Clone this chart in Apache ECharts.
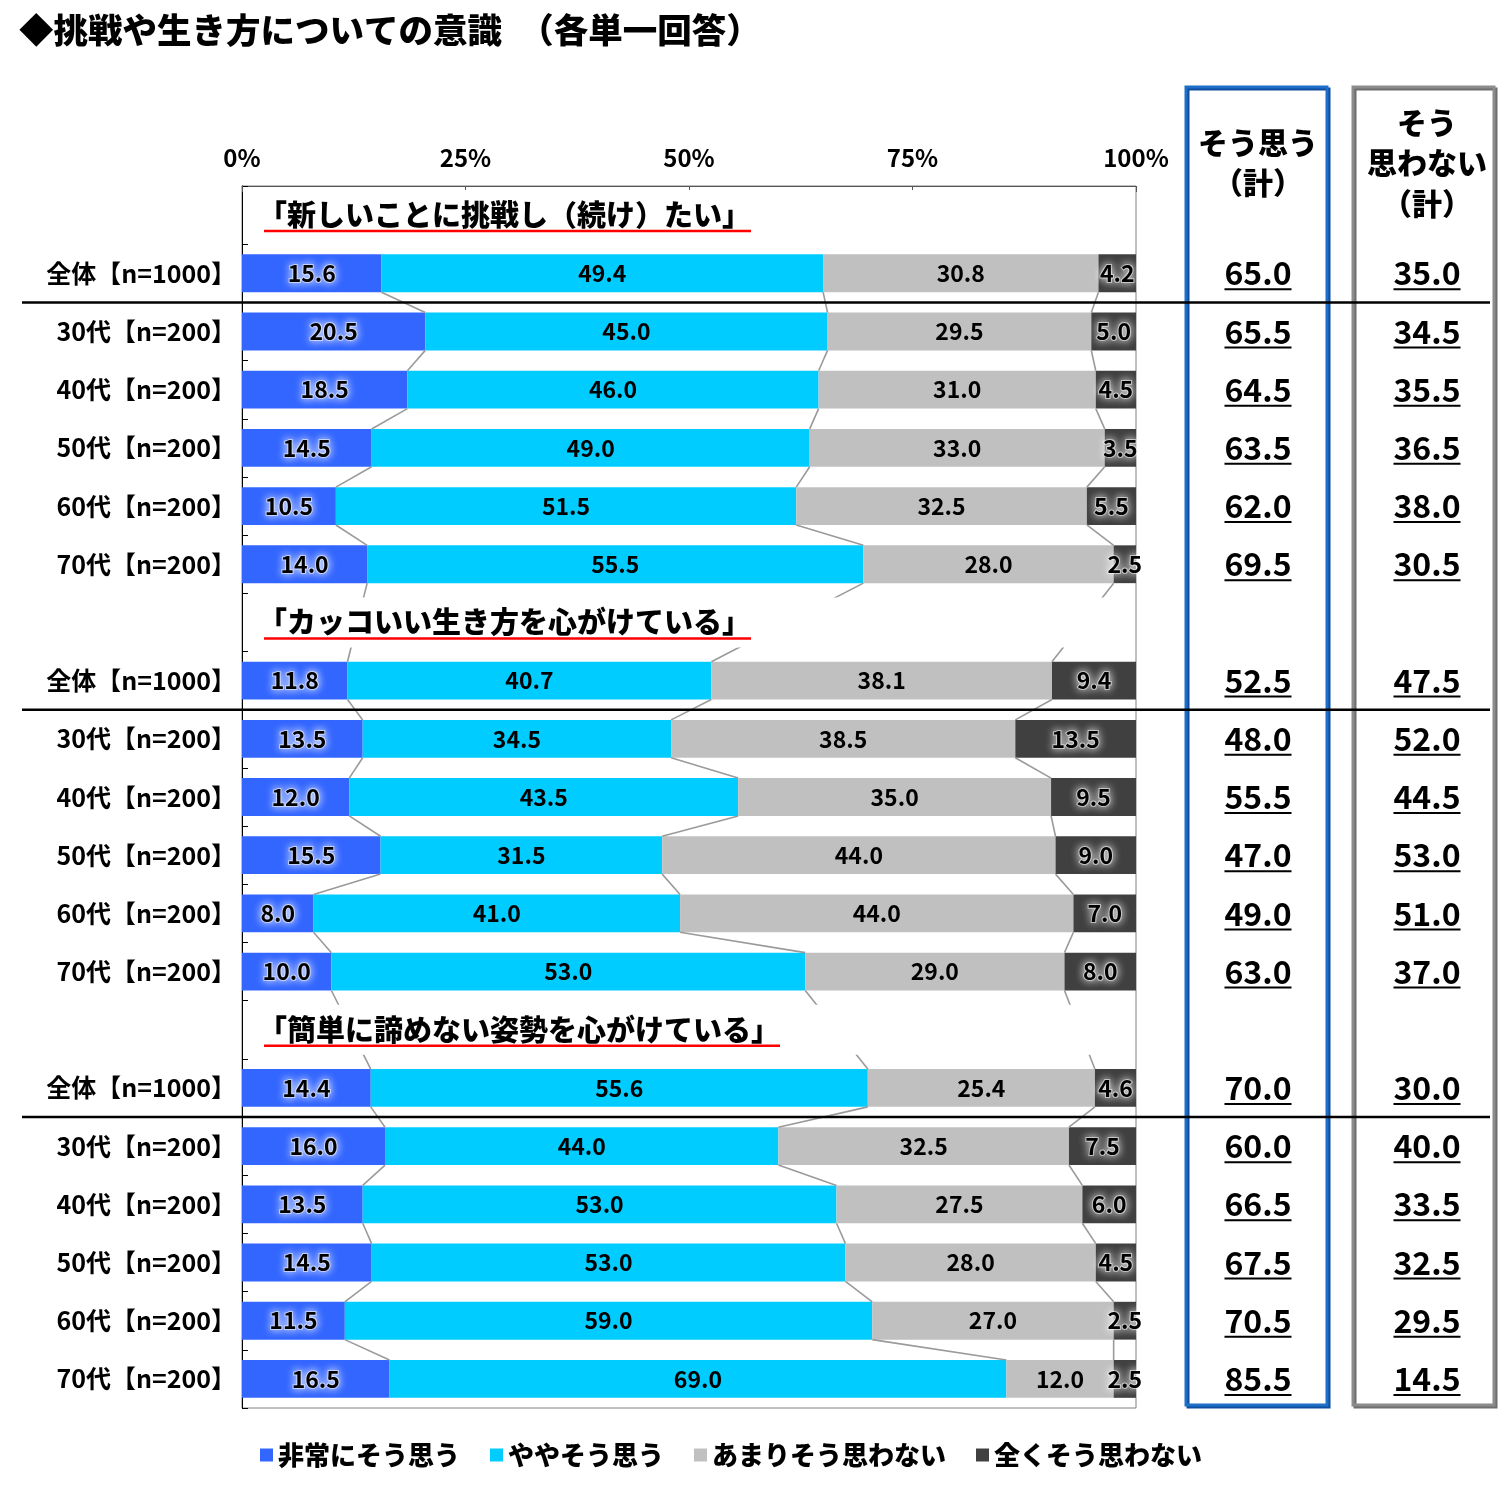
<!DOCTYPE html>
<html><head><meta charset="utf-8">
<script src="https://cdn.jsdelivr.net/npm/echarts@6/dist/echarts.min.js"></script>
<style>html,body{margin:0;padding:0;background:#fff}#c{width:1500px;height:1492px}</style>
</head><body><div id="c"></div>
<script>
const FONT = '"Noto Sans CJK JP", "Noto Sans", sans-serif';
const chartTitle = '◆挑戦や生き方についての意識　（各単一回答）';
const sectionTitles = ['「新しいことに挑戦し（続け）たい」', '「カッコいい生き方を心がけている」', '「簡単に諦めない姿勢を心がけている」'];
const rowLabels = ['全体【n=1000】', '30代【n=200】', '40代【n=200】', '50代【n=200】', '60代【n=200】', '70代【n=200】'];
const seriesNames = ['非常にそう思う', 'ややそう思う', 'あまりそう思わない', '全くそう思わない'];
const seriesColors = ['#3366FF', '#00CCFF', '#C0C0C0', '#404040'];
const strongAgree    = [15.6, 20.5, 18.5, 14.5, 10.5, 14.0, 11.8, 13.5, 12.0, 15.5, 8.0, 10.0, 14.4, 16.0, 13.5, 14.5, 11.5, 16.5];
const someAgree      = [49.4, 45.0, 46.0, 49.0, 51.5, 55.5, 40.7, 34.5, 43.5, 31.5, 41.0, 53.0, 55.6, 44.0, 53.0, 53.0, 59.0, 69.0];
const someDisagree   = [30.8, 29.5, 31.0, 33.0, 32.5, 28.0, 38.1, 38.5, 35.0, 44.0, 44.0, 29.0, 25.4, 32.5, 27.5, 28.0, 27.0, 12.0];
const strongDisagree = [4.2, 5.0, 4.5, 3.5, 5.5, 2.5, 9.4, 13.5, 9.5, 9.0, 7.0, 8.0, 4.6, 7.5, 6.0, 4.5, 2.5, 2.5];
const agreeTotal     = [65.0, 65.5, 64.5, 63.5, 62.0, 69.5, 52.5, 48.0, 55.5, 47.0, 49.0, 63.0, 70.0, 60.0, 66.5, 67.5, 70.5, 85.5];
const disagreeTotal  = [35.0, 34.5, 35.5, 36.5, 38.0, 30.5, 47.5, 52.0, 44.5, 53.0, 51.0, 37.0, 30.0, 40.0, 33.5, 32.5, 29.5, 14.5];
const axisMin = 0, axisMax = 100, axisInterval = 25;

// build category rows (header row + 6 rows per section)
const categories = [];
const headerRows = [];
const barRows = [];
sectionTitles.forEach(function (t, s) {
  headerRows.push(categories.length); categories.push('');
  rowLabels.forEach(function (l) { barRows.push(categories.length); categories.push(l); });
});
const valueSets = [strongAgree, someAgree, someDisagree, strongDisagree];
function fullData(arr) {
  const d = categories.map(function () { return '-'; });
  barRows.forEach(function (r, i) { d[r] = arr[i]; });
  return d;
}
// connectors between consecutive bar rows
const connectorData = [];
for (let j = 0; j < barRows.length - 1; j++) {
  const ca1 = strongAgree[j], ca2 = ca1 + someAgree[j], ca3 = ca2 + someDisagree[j];
  const cb1 = strongAgree[j + 1], cb2 = cb1 + someAgree[j + 1], cb3 = cb2 + someDisagree[j + 1];
  connectorData.push([barRows[j], barRows[j + 1], ca1, ca2, ca3, cb1, cb2, cb3]);
}

const mctx = document.createElement('canvas').getContext('2d');
function textW(t, size, weight) { mctx.font = weight + ' ' + size + 'px ' + FONT; return mctx.measureText(t).width; }

const BAR_RATIO = 0.65;
const chart = echarts.init(document.getElementById('c'));

const barSeries = seriesNames.map(function (name, i) {
  const glow = (i === 0 || i === 3);
  return {
    name: name, type: 'bar', stack: 'total', barWidth: '65%', z: 2,
    itemStyle: { color: seriesColors[i] },
    data: fullData(valueSets[i]),
    label: {
      show: true, position: 'inside',
      formatter: function (p) { return Number(p.value).toFixed(1); },
      color: '#000', fontSize: 23, fontWeight: 'bold', fontFamily: FONT,
      textShadowColor: glow ? '#ffffff' : 'transparent', textShadowBlur: glow ? 8 : 0,
      textBorderColor: glow ? 'rgba(255,255,255,0.55)' : 'transparent', textBorderWidth: glow ? 2 : 0
    }
  };
});

const option = {
  backgroundColor: '#fff',
  animation: false,
  title: { text: chartTitle, left: 14, top: 8, textStyle: { fontSize: 34.5, fontWeight: 900, color: '#000', fontFamily: FONT } },
  legend: {
    data: seriesNames, left: 255, top: 1437, icon: 'rect', itemWidth: 13, itemHeight: 13, itemGap: 30,
    textStyle: { fontSize: 26, fontWeight: 900, color: '#000', fontFamily: FONT }
  },
  grid: { left: 242, right: 364, top: 186, bottom: 84, show: true, borderColor: '#808080', borderWidth: 1 },
  xAxis: {
    type: 'value', position: 'top', min: axisMin, max: axisMax, interval: axisInterval,
    axisLine: { show: true, lineStyle: { color: '#555', width: 1 } },
    axisTick: { show: true, inside: true, length: 6, lineStyle: { color: '#555' } },
    splitLine: { show: false },
    axisLabel: { formatter: '{value}%', fontSize: 24, fontWeight: 'bold', color: '#000', fontFamily: FONT, margin: 16 }
  },
  yAxis: {
    type: 'category', inverse: true, data: categories,
    axisLine: { show: true, lineStyle: { color: '#000', width: 1 } },
    axisTick: { show: true, inside: true, length: 6, lineStyle: { color: '#000' } },
    axisLabel: { fontSize: 25, fontWeight: 'bold', color: '#000', fontFamily: FONT, margin: 6 }
  },
  graphic: [
    { type: 'rect', shape: { x: 1186, y: 87, width: 141, height: 1318 }, style: { fill: 'none', stroke: '#1F6FC8', lineWidth: 3, shadowColor: '#0D4F9E', shadowOffsetX: 2, shadowOffsetY: 2 }, z: 1 },
    { type: 'rect', shape: { x: 1353, y: 87, width: 141, height: 1318 }, style: { fill: 'none', stroke: '#8C8C8C', lineWidth: 3, shadowColor: '#6E6E6E', shadowOffsetX: 2, shadowOffsetY: 2 }, z: 1 },
    { type: 'text', style: { x: 1258, y: 143, text: 'そう思う', align: 'center', verticalAlign: 'middle', fontSize: 30, fontWeight: 900, fontFamily: FONT, fill: '#000' }, z: 5 },
    { type: 'text', style: { x: 1258, y: 183, text: '（計）', align: 'center', verticalAlign: 'middle', fontSize: 30, fontWeight: 900, fontFamily: FONT, fill: '#000' }, z: 5 },
    { type: 'text', style: { x: 1427, y: 123, text: 'そう', align: 'center', verticalAlign: 'middle', fontSize: 30, fontWeight: 900, fontFamily: FONT, fill: '#000' }, z: 5 },
    { type: 'text', style: { x: 1427, y: 163, text: '思わない', align: 'center', verticalAlign: 'middle', fontSize: 30, fontWeight: 900, fontFamily: FONT, fill: '#000' }, z: 5 },
    { type: 'text', style: { x: 1427, y: 204, text: '（計）', align: 'center', verticalAlign: 'middle', fontSize: 30, fontWeight: 900, fontFamily: FONT, fill: '#000' }, z: 5 }
  ],
  series: barSeries.concat([
    {
      type: 'custom', name: 'connectors', z: 3, silent: true, encode: { x: 2, y: 0 },
      data: connectorData,
      renderItem: function (params, api) {
        const a = api.value(0), b = api.value(1);
        const half = api.size([0, 1])[1] * BAR_RATIO / 2;
        const ya = api.coord([0, a])[1] + half, yb = api.coord([0, b])[1] - half;
        const children = [];
        for (let k = 0; k < 3; k++) {
          const xa = api.coord([api.value(2 + k), a])[0];
          const xb = api.coord([api.value(5 + k), b])[0];
          children.push({ type: 'line', shape: { x1: xa, y1: ya, x2: xb, y2: yb }, style: { stroke: '#9A9A9A', lineWidth: 1.6 } });
        }
        return { type: 'group', children: children };
      }
    },
    {
      type: 'custom', name: 'headers', z: 6, silent: true, encode: { x: 0, y: 1 },
      data: headerRows.map(function (r, i) { return [0, r, i]; }),
      renderItem: function (params, api) {
        const row = api.value(1);
        const p0 = api.coord([axisMin, row]), p1 = api.coord([axisMax, row]);
        const t = sectionTitles[api.value(2)];
        const w = textW(t, 29, 900);
        const tx = p0[0] + 16;
        return { type: 'group', children: [
          { type: 'rect', shape: { x: p0[0] + 1, y: p0[1] - 25, width: p1[0] - p0[0] - 2, height: 50 }, style: { fill: '#fff' } },
          { type: 'text', style: { x: tx, y: p0[1], text: t, align: 'left', verticalAlign: 'middle', fontSize: 29, fontWeight: 900, fontFamily: FONT, fill: '#000' } },
          { type: 'line', shape: { x1: tx + 6, y1: p0[1] + 16, x2: tx + w, y2: p0[1] + 16 }, style: { stroke: '#FF0000', lineWidth: 2.5 } }
        ] };
      }
    },
    {
      type: 'custom', name: 'totals', z: 6, silent: true, encode: { x: 0, y: 1 },
      data: barRows.map(function (r, i) { return [0, r, agreeTotal[i], disagreeTotal[i]]; }),
      renderItem: function (params, api) {
        const row = api.value(1);
        const y = api.coord([0, row])[1];
        const children = [];
        [[1258, api.value(2)], [1427, api.value(3)]].forEach(function (c) {
          const t = Number(c[1]).toFixed(1);
          const w = textW(t, 32, 'bold');
          children.push({ type: 'text', style: { x: c[0], y: y, text: t, align: 'center', verticalAlign: 'middle', fontSize: 32, fontWeight: 'bold', fontFamily: FONT, fill: '#000' } });
          children.push({ type: 'line', shape: { x1: c[0] - w / 2, y1: y + 16, x2: c[0] + w / 2, y2: y + 16 }, style: { stroke: '#000', lineWidth: 2 } });
        });
        return { type: 'group', children: children };
      }
    },
    {
      type: 'custom', name: 'separators', z: 7, silent: true, encode: { x: 0, y: 1 },
      data: headerRows.map(function (r) { return [0, r + 1]; }),
      renderItem: function (params, api) {
        const row = api.value(1);
        const y = api.coord([0, row])[1] + api.size([0, 1])[1] / 2;
        return { type: 'line', shape: { x1: 22, y1: y, x2: 1490, y2: y }, style: { stroke: '#000', lineWidth: 2.5 } };
      }
    }
  ])
};
chart.setOption(option);
</script></body></html>
